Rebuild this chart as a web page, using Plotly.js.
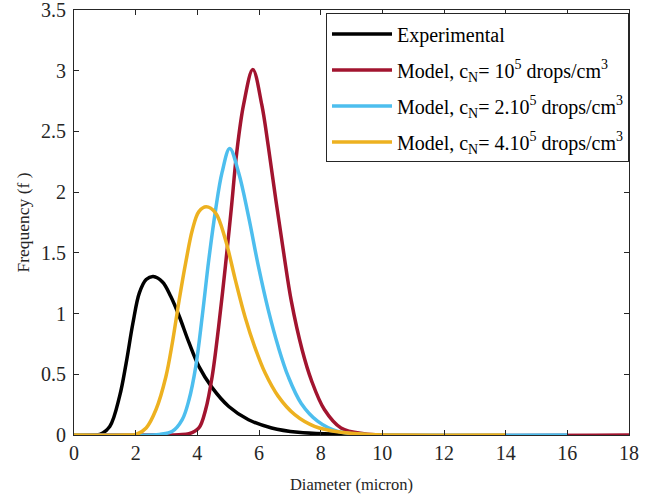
<!DOCTYPE html>
<html>
<head>
<meta charset="utf-8">
<script src="https://cdn.plot.ly/plotly-3.0.1.min.js"></script>
<style>html,body{margin:0;padding:0;background:#fff;}#chart{width:646px;height:499px;}</style>
</head>
<body>
<div id="chart"></div>
<script>
// Experimental
const expX = [0, 0.6, 0.84, 1.16, 1.48, 1.69, 1.91, 2.12, 2.34, 2.57, 2.87, 3.14, 3.41, 3.73, 4.05, 4.48, 5.02, 5.66, 6.41, 7.27, 8.35, 9.5, 10];
const expY = [0, 0, 0.005, 0.07, 0.32, 0.59, 0.92, 1.17, 1.28, 1.305, 1.26, 1.14, 0.98, 0.76, 0.565, 0.39, 0.235, 0.126, 0.058, 0.022, 0.008, 0.002, 0];
// Model cN = 1e5
const m1X = [0, 3.0, 3.4, 3.73, 4.05, 4.27, 4.48, 4.69, 4.91, 5.1, 5.28, 5.5, 5.8, 6.09, 6.3, 6.55, 6.8, 7.05, 7.4, 7.7, 8.12, 8.66, 9.4, 10.2, 18];
const m1Y = [0, 0, 0.003, 0.01, 0.058, 0.21, 0.48, 0.89, 1.39, 1.86, 2.33, 2.72, 3.01, 2.72, 2.38, 1.93, 1.5, 1.10, 0.70, 0.45, 0.21, 0.058, 0.01, 0, 0];
// Model cN = 2e5
const m2X = [0, 2.5, 2.77, 3.19, 3.51, 3.73, 3.95, 4.16, 4.37, 4.59, 4.8, 5.05, 5.34, 5.66, 5.98, 6.3, 6.62, 6.95, 7.37, 7.91, 8.55, 9.4, 10.2, 16];
const m2Y = [0, 0, 0.005, 0.03, 0.126, 0.29, 0.565, 0.98, 1.44, 1.85, 2.16, 2.36, 2.16, 1.80, 1.39, 1.03, 0.73, 0.48, 0.26, 0.112, 0.03, 0.005, 0, 0];
// Model cN = 4e5
const m4X = [0, 1.7, 2.01, 2.34, 2.66, 2.98, 3.19, 3.41, 3.62, 3.84, 4.05, 4.29, 4.59, 4.91, 5.23, 5.55, 5.87, 6.2, 6.62, 7.16, 7.8, 8.66, 9.63, 10.5, 14];
const m4Y = [0, 0, 0.005, 0.058, 0.21, 0.48, 0.76, 1.11, 1.415, 1.69, 1.84, 1.88, 1.83, 1.61, 1.28, 0.97, 0.72, 0.51, 0.32, 0.167, 0.071, 0.022, 0.005, 0, 0];

const names = [
  'Experimental',
  'Model, c<sub>N</sub>= 10<sup>5</sup> drops/cm<sup>3</sup>',
  'Model, c<sub>N</sub>= 2.10<sup>5</sup> drops/cm<sup>3</sup>',
  'Model, c<sub>N</sub>= 4.10<sup>5</sup> drops/cm<sup>3</sup>'
];
const colors = ['#000000', '#A2142F', '#4DBEEE', '#EDB120'];
const xs = [expX, m1X, m2X, m4X];
const ys = [expY, m1Y, m2Y, m4Y];

const xTicks = [0, 2, 4, 6, 8, 10, 12, 14, 16, 18];
const yTicks = [0, 0.5, 1, 1.5, 2, 2.5, 3, 3.5];

const traces = xs.map((x, i) => ({
  x: x, y: ys[i], name: names[i], type: 'scatter', mode: 'lines',
  line: {color: colors[i], width: 3.5, shape: 'spline', smoothing: 1},
  legendgroup: 'g' + i
}));

const font = 'Liberation Serif, Times New Roman, serif';
const layout = {
  width: 646, height: 499,
  margin: {l: 74, r: 17, t: 10, b: 64},
  paper_bgcolor: '#fff', plot_bgcolor: '#fff',
  font: {family: font, color: '#262626', size: 16},
  showlegend: true,
  legend: {
    x: 1.0, xanchor: 'right', y: 0.992, yanchor: 'top',
    bordercolor: '#262626', borderwidth: 1, bgcolor: '#fff',
    font: {family: font, size: 20, color: '#000'},
    itemwidth: 60,
    tracegroupgap: 7
  },
  xaxis: {
    range: [0, 18], tickvals: xTicks, ticktext: xTicks.map(String),
    ticks: 'inside', ticklen: 5, tickcolor: '#262626',
    showline: true, linecolor: '#262626', linewidth: 1, mirror: 'ticks',
    showgrid: false, zeroline: false, ticklabeloverflow: 'allow',
    tickfont: {family: font, size: 20, color: '#262626'},
    title: {text: 'Diameter (micron)', font: {family: font, size: 16.5, color: '#262626'}, standoff: 15}
  },
  yaxis: {
    range: [0, 3.5], tickvals: yTicks, ticktext: yTicks.map(String),
    ticks: 'inside', ticklen: 5, tickcolor: '#262626',
    showline: true, linecolor: '#262626', linewidth: 1, mirror: 'ticks',
    showgrid: false, zeroline: false, ticklabeloverflow: 'allow',
    ticklabelstandoff: 3,
    tickfont: {family: font, size: 20, color: '#262626'},
    title: {text: 'Frequency (f )', font: {family: font, size: 17.5, color: '#262626'}, standoff: 6}
  }
};

Plotly.newPlot('chart', traces, layout, {displayModeBar: false, staticPlot: true});
</script>
</body>
</html>
